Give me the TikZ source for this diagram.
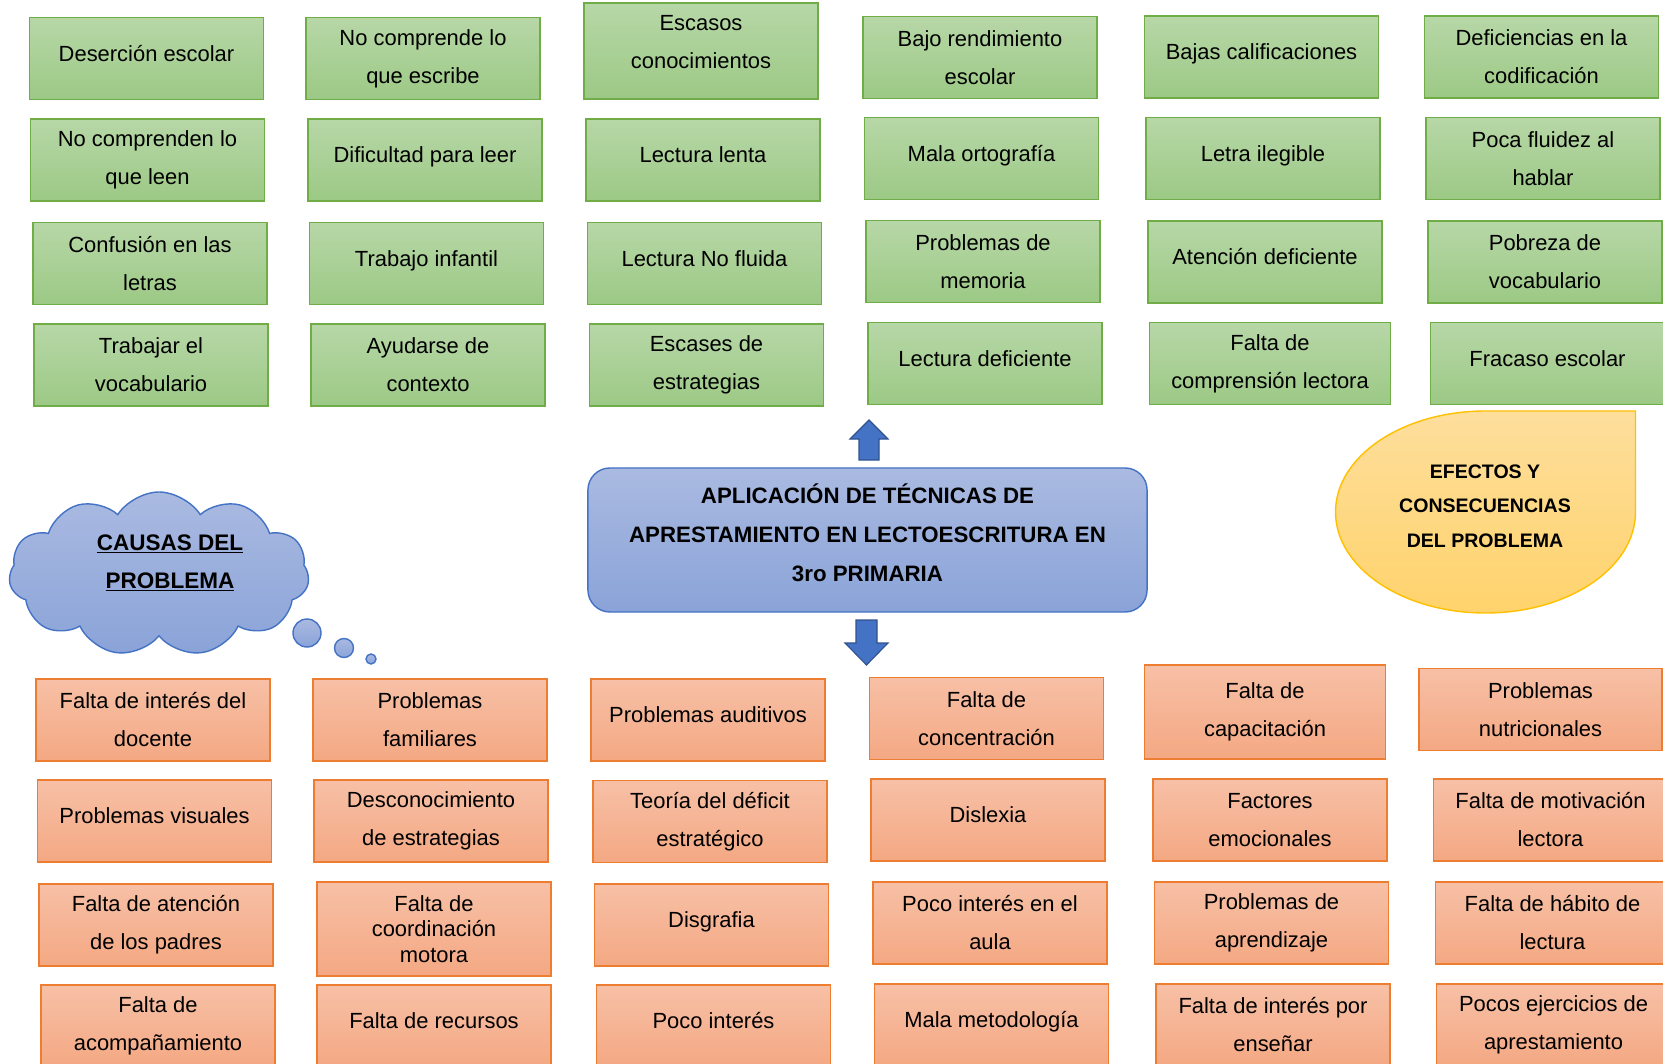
\documentclass[tikz,border=0pt]{standalone}
\usepackage{fontspec}
\setmainfont{Liberation Sans}
\usetikzlibrary{shapes.symbols}

\definecolor{grnT}{RGB}{183,215,167}
\definecolor{grnB}{RGB}{156,201,133}
\definecolor{grnD}{RGB}{112,173,71}
\definecolor{orT}{RGB}{247,192,166}
\definecolor{orB}{RGB}{244,168,131}
\definecolor{orD}{RGB}{237,125,49}
\definecolor{bluT}{RGB}{170,186,225}
\definecolor{bluB}{RGB}{138,163,216}
\definecolor{bluD}{RGB}{68,114,196}
\definecolor{bluA}{RGB}{68,114,196}
\definecolor{bluAD}{RGB}{47,82,143}
\definecolor{yelT}{RGB}{253,222,156}
\definecolor{yelB}{RGB}{255,211,108}
\definecolor{yelD}{RGB}{255,192,0}

% extra depth below the last line, lifts the text
\newcommand{\lift}[1]{\rule[-#1]{0pt}{#1}}

\begin{document}
\begin{tikzpicture}[x=0.025cm, y=-0.025cm,
        box/.style = {draw, line width=1pt, minimum width=5.85cm, minimum height=2.05cm,
                align=center, inner sep=0pt, font=\fontsize{15.6}{27}\selectfont},
        gbox/.style = {box, draw=grnD, top color=grnT, bottom color=grnB},
        obox/.style = {box, draw=orD, top color=orT, bottom color=orB},
        one/.style = {text height=11.3pt, text depth=7.5pt},
        bluefill/.style = {draw=bluD, line width=1pt, top color=bluT, bottom color=bluB},
        blockarrow/.style = {draw=bluAD, line width=0.8pt, fill=bluA},
    ]
    \useasboundingbox (0,0) rectangle (1663,1064);
    \clip (0,0) rectangle (1663,1064);

    % efectos (verde)
    \node[gbox, one] (ef1) at (146.5,58.5) {Deserción escolar};
    \node[gbox] (ef2) at (423,58.5) {No comprende lo\\que escribe};
    \node[gbox, minimum height=2.4cm] (ef3) at (701,51) {Escasos\\conocimientos\lift{12.8pt}};
    \node[gbox] (ef4) at (980,57.5) {Bajo rendimiento\\escolar};
    \node[gbox, one] (ef5) at (1261.5,57) {Bajas calificaciones};
    \node[gbox] (ef6) at (1541.5,57) {Deficiencias en la\\codificación};

    \node[gbox] (ef7) at (147.5,160) {No comprenden lo\\que leen};
    \node[gbox, one] (ef8) at (425,160) {Dificultad para leer};
    \node[gbox, one] (ef9) at (703,160) {Lectura lenta};
    \node[gbox, one] (ef10) at (981.5,158.5) {Mala ortografía};
    \node[gbox, one] (ef11) at (1263,158.5) {Letra ilegible};
    \node[gbox] (ef12) at (1543,158.5) {Poca fluidez al\\hablar};

    \node[gbox] (ef13) at (150,263.5) {Confusión en las\\letras};
    \node[gbox, one] (ef14) at (426.5,263.5) {Trabajo infantil};
    \node[gbox, one] (ef15) at (704.5,263.5) {Lectura No fluida};
    \node[gbox] (ef16) at (983,261.5) {Problemas de\\memoria};
    \node[gbox, one] (ef17) at (1265,262) {Atención deficiente};
    \node[gbox] (ef18) at (1545,262) {Pobreza de\\vocabulario};

    \node[gbox] (ef19) at (151,365) {Trabajar el\\vocabulario};
    \node[gbox] (ef20) at (428,365) {Ayudarse de\\contexto};
    \node[gbox] (ef21) at (706.5,365) {Escases de\\estrategias};
    \node[gbox, one] (ef22) at (985,363.5) {Lectura deficiente};
    \node[gbox, minimum width=6.03cm] (ef23) at (1270,363.5) {Falta de\\comprensión lectora};
    \node[gbox, one] (ef24) at (1547.5,363.5) {Fracaso escolar};

    % tema central
    \node[bluefill, rounded corners=0.55cm, minimum width=13.975cm, minimum height=3.6cm,
        align=center, font=\bfseries\fontsize{15.85}{27.5}\selectfont] (tema) at (867.5,540)
        {APLICACIÓN DE TÉCNICAS DE\\APRESTAMIENTO EN LECTOESCRITURA EN\\3ro PRIMARIA\lift{10.6pt}};

    \draw[blockarrow] (859,460) -- (859,439) -- (850,439) -- (869,420) -- (888,439)
        -- (879,439) -- (879,460) -- cycle;
    \draw[blockarrow] (856,620) -- (877,620) -- (877,643) -- (888,643) -- (866.5,665)
        -- (845,643) -- (856,643) -- cycle;

    % nube
    \node[cloud, cloud puffs=11, cloud puff arc=115, aspect=1.9, bluefill,
        minimum width=7.5cm, minimum height=4.1cm, inner sep=0pt] (causas) at (159,574) {};
    \node[align=center, font=\bfseries\fontsize{16}{27}\selectfont] (causastxt) at (170,563)
        {\underline{CAUSAS DEL}\\\underline{PROBLEMA}};
    \draw[bluefill] (307,633) circle[radius=14];
    \draw[bluefill] (344,648) circle[radius=9.5];
    \draw[bluefill] (371,659) circle[radius=5];

    % gota
    \draw[draw=yelD, line width=1pt, top color=yelT, bottom color=yelB]
        (1635.5,512) -- (1635.5,411) -- (1485.5,411)
        arc[start angle=-90, end angle=-360, x radius=150, y radius=101] -- cycle;
    \node[align=center, font=\bfseries\fontsize{13.9}{24.5}\selectfont] (efectos) at (1485,506)
        {EFECTOS Y\\CONSECUENCIAS\\DEL PROBLEMA};

    % causas (naranja)
    \node[obox] (ca1) at (153,720) {Falta de interés del\\docente};
    \node[obox] (ca2) at (430,720) {Problemas\\familiares};
    \node[obox, one] (ca3) at (708,720) {Problemas auditivos};
    \node[obox] (ca4) at (986.5,718.5) {Falta de\\concentración};
    \node[obox, minimum width=6.03cm, minimum height=2.35cm] (ca5) at (1265,712) {Falta de\\capacitación};
    \node[obox, minimum width=6.08cm] (ca6) at (1540.5,709.5) {Problemas\\nutricionales};

    \node[obox, one] (ca7) at (154.5,821) {Problemas visuales};
    \node[obox] (ca8) at (431,821) {Desconocimiento\\de estrategias};
    \node[obox] (ca9) at (710,821.5) {Teoría del déficit\\estratégico};
    \node[obox, one] (ca10) at (988,820) {Dislexia};
    \node[obox] (ca11) at (1270,820) {Factores\\emocionales};
    \node[obox] (ca12) at (1550.5,820) {Falta de motivación\\lectora};

    \node[obox] (ca13) at (156,925) {Falta de atención\\de los padres};
    \node[obox, minimum height=2.35cm, font=\fontsize{15.6}{18.3}\selectfont] (ca14) at (434,929)
        {Falta de\\coordinación\\motora};
    \node[obox, one] (ca15) at (711.5,925) {Disgrafia};
    \node[obox] (ca16) at (990,923) {Poco interés en el\\aula};
    \node[obox] (ca17) at (1271.5,923) {Problemas de\\aprendizaje};
    \node[obox] (ca18) at (1552.5,923) {Falta de hábito de\\lectura};

    \node[obox] (ca19) at (158,1026) {Falta de\\acompañamiento};
    \node[obox, one] (ca20) at (434,1026) {Falta de recursos};
    \node[obox, one] (ca21) at (713.5,1026) {Poco interés};
    \node[obox, one] (ca22) at (991.5,1025) {Mala metodología};
    \node[obox] (ca23) at (1273,1025) {Falta de interés por\\enseñar};
    \node[obox] (ca24) at (1553.5,1025) {Pocos ejercicios de\\aprestamiento};
\end{tikzpicture}
\end{document}
